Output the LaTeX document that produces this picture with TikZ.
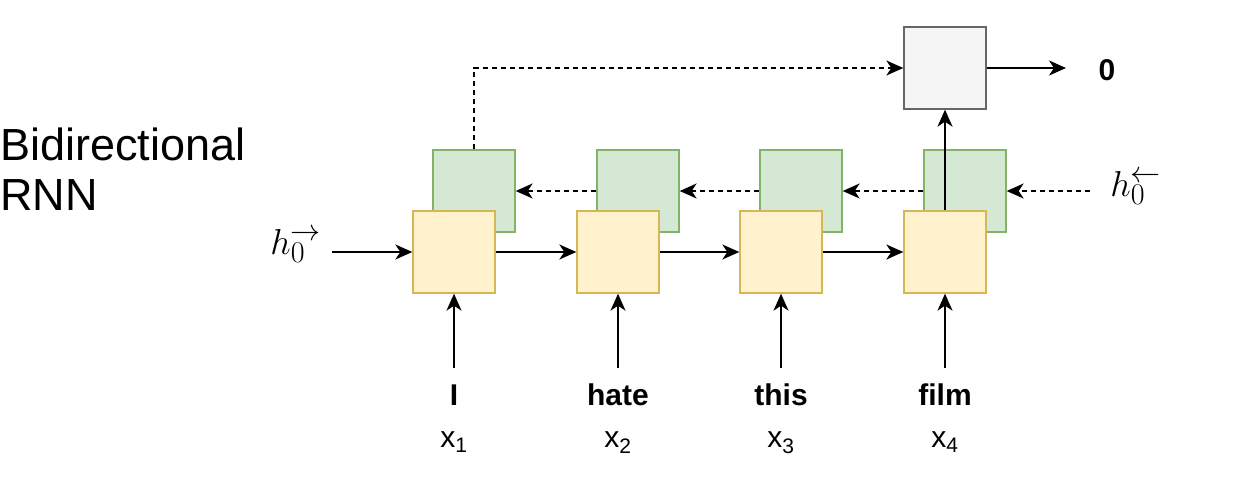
\documentclass[tikz,border=0pt]{standalone}
\usepackage{fontspec}
\setmainfont{Liberation Sans}
\usepackage{graphicx}
\usetikzlibrary{arrows.meta}
\definecolor{yfill}{HTML}{FFF2CC}
\definecolor{ydraw}{HTML}{D6B656}
\definecolor{gfill}{HTML}{D5E8D4}
\definecolor{gdraw}{HTML}{82B366}
\definecolor{ofill}{HTML}{F5F5F5}
\definecolor{odraw}{HTML}{666666}
\begin{document}
\begin{tikzpicture}[x=1pt,y=-1pt,
  box/.style={rectangle, minimum width=82pt, minimum height=82pt, line width=1.3pt, inner sep=0pt},
  fwbox/.style={box, draw=ydraw, fill=yfill},
  bwbox/.style={box, draw=gdraw, fill=gfill},
  outbox/.style={box, draw=odraw, fill=ofill},
  arr/.style={line width=2pt, -{Stealth[length=17pt,width=15pt,inset=5pt]}},
  darr/.style={arr, dash pattern=on 5pt off 4pt},
  word/.style={font=\fontsize{30}{30}\selectfont\bfseries, anchor=base, inner sep=0pt},
  xlab/.style={font=\fontsize{30}{30}\selectfont, anchor=base, inner sep=0pt},
  hlab/.style={inner sep=0pt}
]
\useasboundingbox (0,0) rectangle (1233,480);
\node[anchor=base west, inner sep=0pt, align=left, font=\fontsize{45}{50}\selectfont] (title) at (0,210) {Bidirectional\\RNN};
% backward boxes
\node[bwbox] (b1) at (474,191) {};
\node[bwbox] (b2) at (638,191) {};
\node[bwbox] (b3) at (801,191) {};
\node[bwbox] (b4) at (965,191) {};
% forward boxes
\node[fwbox] (f1) at (454,252) {};
\node[fwbox] (f2) at (618,252) {};
\node[fwbox] (f3) at (781,252) {};
\node[fwbox] (f4) at (945,252) {};
% output box
\node[outbox] (o) at (945,68) {};
% labels
\node[hlab] (hf) at (296,246) {\scalebox{1.45}{\Huge $h_0^{\rightarrow}$}};
\node[hlab] (hb) at (1136,188) {\scalebox{1.45}{\Huge $h_0^{\leftarrow}$}};
\node[font=\fontsize{30}{30}\selectfont\bfseries, inner sep=0pt] (out) at (1107,70) {0};
\node[word] (w1) at (454,405) {I};
\node[word] (w2) at (618,405) {hate};
\node[word] (w3) at (781,405) {this};
\node[word] (w4) at (945,405) {film};
\node[xlab] (x1) at (454,447) {x\textsubscript{1}};
\node[xlab] (x2) at (618,447) {x\textsubscript{2}};
\node[xlab] (x3) at (781,447) {x\textsubscript{3}};
\node[xlab] (x4) at (945,447) {x\textsubscript{4}};
% coordinates
\coordinate (hfs) at (332,252);
\coordinate (hbs) at (1090,191);
\coordinate (oe) at (1066,68);
\coordinate (i1) at (454,368);
\coordinate (i2) at (618,368);
\coordinate (i3) at (781,368);
\coordinate (i4) at (945,368);
% forward arrows
\draw[arr] (hfs) -- (f1.west);
\draw[arr] (f1.east) -- (f2.west);
\draw[arr] (f2.east) -- (f3.west);
\draw[arr] (f3.east) -- (f4.west);
% backward arrows
\draw[darr] (hbs) -- (b4.east);
\draw[darr] (b4.west) -- (b3.east);
\draw[darr] (b3.west) -- (b2.east);
\draw[darr] (b2.west) -- (b1.east);
% inputs
\draw[arr] (i1) -- (f1.south);
\draw[arr] (i2) -- (f2.south);
\draw[arr] (i3) -- (f3.south);
\draw[arr] (i4) -- (f4.south);
% to output
\draw[darr] (b1.north) |- (o.west);
\draw[arr] (f4.north) -- (o.south);
\draw[arr] (o.east) -- (oe);
\end{tikzpicture}
\end{document}
